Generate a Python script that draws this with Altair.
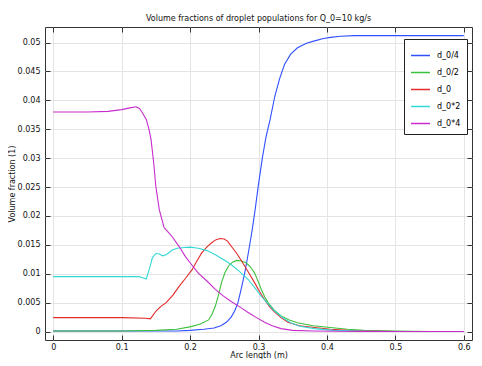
import altair as alt
import pandas as pd

# ---- data ----
series_names = ["d_0/4", "d_0/2", "d_0", "d_0*2", "d_0*4"]
series_colors = ["#2f50ff", "#3cc03c", "#e22a2a", "#33d8d8", "#c82ccc"]

x_ticks = [0, 0.1, 0.2, 0.3, 0.4, 0.5, 0.6]
y_ticks = [0, 0.005, 0.01, 0.015, 0.02, 0.025, 0.03, 0.035, 0.04, 0.045, 0.05]

blue_x = [0, 0.1, 0.15, 0.18, 0.2, 0.22, 0.235, 0.245, 0.253, 0.26, 0.265, 0.27, 0.275, 0.28,
          0.285, 0.29, 0.295, 0.3, 0.306, 0.311, 0.317, 0.324, 0.331, 0.338, 0.347, 0.357,
          0.37, 0.382, 0.395, 0.405, 0.42, 0.44, 0.47, 0.5, 0.55, 0.6]
blue_y = [0.0001, 0.0001, 0.0001, 0.0001, 0.0002, 0.0004, 0.0006, 0.001, 0.0016, 0.0025, 0.0035,
          0.005, 0.0075, 0.0102, 0.0135, 0.017, 0.021, 0.0255, 0.0303, 0.0337, 0.0367, 0.0408,
          0.0438, 0.0462, 0.048, 0.0491, 0.0499, 0.0503, 0.0507, 0.0509, 0.0511, 0.0512, 0.0512,
          0.0512, 0.0512, 0.0512]

green_x = [0, 0.1, 0.15, 0.18, 0.2, 0.215, 0.227, 0.232, 0.237, 0.242, 0.246, 0.251, 0.256,
           0.262, 0.268, 0.275, 0.282, 0.288, 0.294, 0.299, 0.304, 0.309, 0.314, 0.323, 0.333,
           0.345, 0.357, 0.38, 0.405, 0.43, 0.454, 0.5, 0.55, 0.6]
green_y = [0.0001, 0.0001, 0.0002, 0.0004, 0.0008, 0.0013, 0.002, 0.003, 0.0044, 0.0065, 0.0085,
           0.0102, 0.0113, 0.012, 0.0123, 0.0122, 0.0119, 0.0112, 0.0102, 0.0088, 0.0073, 0.006,
           0.005, 0.0037, 0.0027, 0.002, 0.0015, 0.001, 0.0007, 0.0004, 0.0002, 0.0001, 0.0, 0.0]

red_x = [0, 0.1, 0.135, 0.142, 0.15, 0.157, 0.165, 0.175, 0.184, 0.194, 0.203, 0.21, 0.217,
         0.225, 0.232, 0.238, 0.244, 0.25, 0.255, 0.26, 0.27, 0.28, 0.287, 0.294, 0.301, 0.309,
         0.316, 0.324, 0.333, 0.343, 0.36, 0.382, 0.405, 0.43, 0.47, 0.5, 0.6]
red_y = [0.0024, 0.0024, 0.0023, 0.0022, 0.0035, 0.0043, 0.005, 0.0063, 0.0078, 0.0093, 0.0107,
         0.0122, 0.0136, 0.0147, 0.0154, 0.0159, 0.0161, 0.016, 0.0156, 0.0148, 0.0132, 0.0113,
         0.0099, 0.0085, 0.007, 0.0055, 0.0043, 0.0033, 0.0024, 0.0016, 0.001, 0.0007, 0.0004,
         0.0002, 0.0001, 0.0, 0.0]

cyan_x = [0, 0.1, 0.125, 0.131, 0.136, 0.141, 0.145, 0.15, 0.155, 0.16, 0.165, 0.174, 0.181,
          0.188, 0.2, 0.212, 0.225, 0.237, 0.248, 0.26, 0.272, 0.285, 0.295, 0.304, 0.314, 0.324,
          0.335, 0.347, 0.36, 0.382, 0.41, 0.45, 0.5, 0.6]
cyan_y = [0.0095, 0.0095, 0.0095, 0.0093, 0.0091, 0.011, 0.0128, 0.0135, 0.0134, 0.0131, 0.0133,
          0.0141, 0.0144, 0.0145, 0.0146, 0.0144, 0.014, 0.0133, 0.0125, 0.0116, 0.0104, 0.009,
          0.0075, 0.0061, 0.0048, 0.0035, 0.0024, 0.0015, 0.0009, 0.0005, 0.0002, 0.0001, 0.0, 0.0]

magenta_x = [0, 0.05, 0.08, 0.1, 0.112, 0.121, 0.126, 0.13, 0.136, 0.14, 0.143, 0.147, 0.15,
             0.155, 0.162, 0.168, 0.174, 0.184, 0.193, 0.2, 0.212, 0.225, 0.237, 0.248, 0.26,
             0.272, 0.285, 0.297, 0.309, 0.32, 0.333, 0.35, 0.38, 0.45, 0.6]
magenta_y = [0.038, 0.038, 0.0381, 0.0384, 0.0387, 0.0389, 0.0386, 0.0379, 0.0367, 0.035, 0.0332,
             0.029, 0.0251, 0.0211, 0.018, 0.0172, 0.0164, 0.0147, 0.013, 0.0119, 0.0101, 0.0087,
             0.0073, 0.0062, 0.0052, 0.0043, 0.0033, 0.0024, 0.0016, 0.001, 0.0005, 0.0002,
             0.0001, 0.0, 0.0]

all_x = [blue_x, green_x, red_x, cyan_x, magenta_x]
all_y = [blue_y, green_y, red_y, cyan_y, magenta_y]

rows = []
for name, xs, ys in zip(series_names, all_x, all_y):
    for i, (xv, yv) in enumerate(zip(xs, ys)):
        rows.append({"s": name, "x": xv, "y": yv, "i": i})
df = pd.DataFrame(rows)

FONT = "DejaVu Sans"
xscale = alt.Scale(domain=[-0.012, 0.612], nice=False, zero=False)
yscale = alt.Scale(domain=[-0.00147, 0.0527], nice=False, zero=False)

lines = alt.Chart(df).mark_line(strokeWidth=1.1, clip=True).encode(
    x=alt.X("x:Q", scale=xscale,
            axis=alt.Axis(title="Arc length (m)", values=x_ticks, format="~g", orient="bottom",
                          offset=-5, tickSize=5, domain=False, labelPadding=3,
                          titlePadding=0, grid=True)),
    y=alt.Y("y:Q", scale=yscale,
            axis=alt.Axis(title="Volume fraction (1)", values=y_ticks, format="~g", orient="left",
                          offset=-5, tickSize=5, domain=False, labelPadding=5,
                          titlePadding=1, grid=True)),
    color=alt.Color("s:N", scale=alt.Scale(domain=series_names, range=series_colors),
                    sort=series_names,
                    legend=alt.Legend(title=None, orient="none", legendX=359, legendY=12,
                                      fillColor="white", strokeColor="#222", padding=6,
                                      symbolType="stroke", symbolSize=361, symbolStrokeWidth=1.5,
                                      labelFontSize=8, labelFont=FONT, rowPadding=2,
                                      labelOffset=6)),
    order="i:Q",
)

frame_axes = alt.Chart(df).mark_line(opacity=0).encode(
    x=alt.X("x:Q", scale=xscale,
            axis=alt.Axis(title=None, values=x_ticks, orient="top", labels=False, grid=False,
                          offset=-5, tickSize=5, domain=False)),
    y=alt.Y("y:Q", scale=yscale,
            axis=alt.Axis(title=None, values=y_ticks, orient="right", labels=False, grid=False,
                          offset=-5, tickSize=5, domain=False)),
    detail="s:N",
)

chart = alt.layer(lines, frame_axes).resolve_axis(x="independent", y="independent").properties(
    width=427, height=313,
    title=alt.TitleParams("Volume fractions of droplet populations for Q_0=10 kg/s",
                          fontSize=8, fontWeight="normal", font=FONT, color="#111", offset=4),
    padding={"left": 0, "top": 6, "right": 0, "bottom": 0},
).configure_view(stroke="#333", strokeWidth=1).configure_axis(
    labelFont=FONT, titleFont=FONT, labelFontSize=8, titleFontSize=8, titleFontWeight="normal",
    labelColor="#111", titleColor="#111", tickColor="#333", gridColor="#e4e4e4", gridWidth=1,
)

chart.save("out.html", embed_options={"renderer": "svg", "actions": False})
